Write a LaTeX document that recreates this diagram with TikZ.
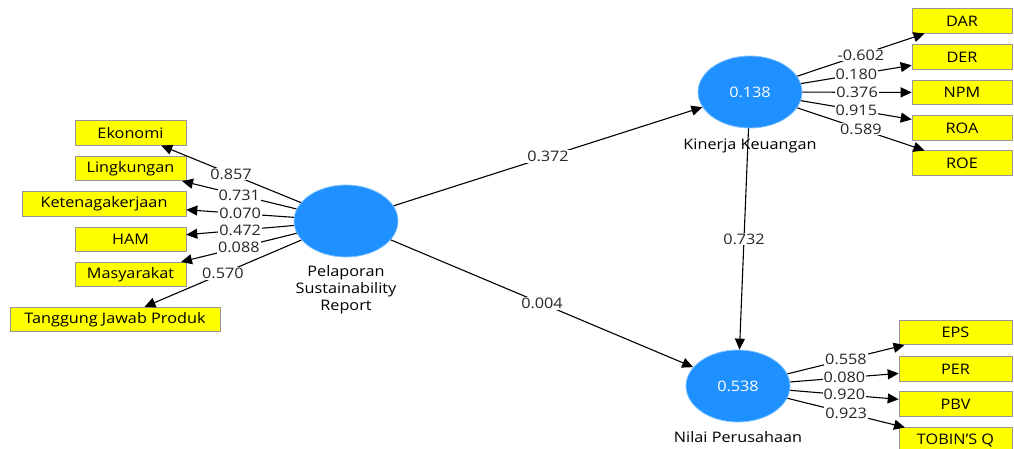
\documentclass[tikz,border=0pt]{standalone}
\usepackage{fontspec}
\setmainfont{Open Sans}[FakeStretch=1.12]
\usetikzlibrary{arrows.meta,shapes.geometric,positioning}

\definecolor{lvblue}{RGB}{30,144,255}
\definecolor{lvedge}{RGB}{130,195,255}
\definecolor{indyellow}{RGB}{255,255,0}
\definecolor{indedge}{RGB}{150,150,150}

\begin{document}
\begin{tikzpicture}[x=1pt,y=-1pt,
        font=\fontsize{14.5}{17}\selectfont,
        latent/.style={ellipse,draw=lvedge,line width=0.8pt,fill=lvblue,
            minimum width=104pt,minimum height=72pt,inner sep=0pt,text=white},
        indicator/.style={draw=indedge,line width=0.6pt,fill=indyellow,
            minimum height=24.5pt,inner sep=0pt},
        coef/.style={fill=white,inner sep=1pt,text=black!85},
        link/.style={line width=1.1pt,-{Triangle[length=11pt,width=10pt]}}]
        \useasboundingbox (0,0) rectangle (1014,448);

        % latent variables
        \node[latent] (psr) at (346,221) {};
        \node[latent] (kin) at (750,92) {0.138};
        \node[latent] (nil) at (738,386) {0.538};
        \node[below=5pt of psr,align=center] (psrlbl) {Pelaporan\\Sustainability\\Report};
        \node[below=7pt of kin] (kinlbl) {Kinerja Keuangan};
        \node[below=6pt of nil] (nillbl) {Nilai Perusahaan};

        % indicators of Pelaporan Sustainability Report
        \node[indicator,minimum width=111pt] (eko) at (130.5,133) {Ekonomi};
        \node[indicator,minimum width=111pt] (lin) at (130.5,168.5) {Lingkungan};
        \node[indicator,minimum width=164pt] (ket) at (104,204) {Ketenagakerjaan};
        \node[indicator,minimum width=111pt] (ham) at (130.5,239.5) {HAM};
        \node[indicator,minimum width=111pt] (mas) at (130.5,274.5) {Masyarakat};
        \node[indicator,minimum width=210pt] (tjp) at (115,319.5) {Tanggung Jawab Produk};

        % indicators of Kinerja Keuangan
        \node[indicator,minimum width=100pt] (dar) at (962,21) {DAR};
        \node[indicator,minimum width=100pt] (der) at (962,57) {DER};
        \node[indicator,minimum width=100pt] (npm) at (962,92.5) {NPM};
        \node[indicator,minimum width=100pt] (roa) at (962,128) {ROA};
        \node[indicator,minimum width=100pt] (roe) at (962,163) {ROE};

        % indicators of Nilai Perusahaan
        \node[indicator,minimum width=113pt] (eps) at (955.5,332.5) {EPS};
        \node[indicator,minimum width=113pt] (per) at (955.5,369) {PER};
        \node[indicator,minimum width=113pt] (pbv) at (955.5,404) {PBV};
        \node[indicator,minimum width=113pt] (tob) at (955.5,440) {TOBIN'S Q};

        % outer loadings
        \draw[link] (psr) -- node[coef] {0.857} (eko);
        \draw[link] (psr) -- node[coef] {0.731} (lin);
        \draw[link] (psr) -- node[coef] {0.070} (ket);
        \draw[link] (psr) -- node[coef] {0.472} (ham);
        \draw[link] (psr) -- node[coef] {0.088} (mas);
        \draw[link] (psr) -- node[coef] {0.570} (tjp);

        \draw[link] (kin) -- node[coef] {-0.602} (dar);
        \draw[link] (kin) -- node[coef] {0.180} (der);
        \draw[link] (kin) -- node[coef] {0.376} (npm);
        \draw[link] (kin) -- node[coef] {0.915} (roa);
        \draw[link] (kin) -- node[coef] {0.589} (roe);

        \draw[link] (nil) -- node[coef] {0.558} (eps);
        \draw[link] (nil) -- node[coef] {0.080} (per);
        \draw[link] (nil) -- node[coef] {0.920} (pbv);
        \draw[link] (nil) -- node[coef] {0.923} (tob);

        % path coefficients
        \draw[link] (psr) -- node[coef] {0.372} (kin);
        \draw[link] (psr) -- node[coef] {0.004} (nil);
        \draw[link] (kin) -- node[coef] {0.732} (nil);
    \end{tikzpicture}
\end{document}
